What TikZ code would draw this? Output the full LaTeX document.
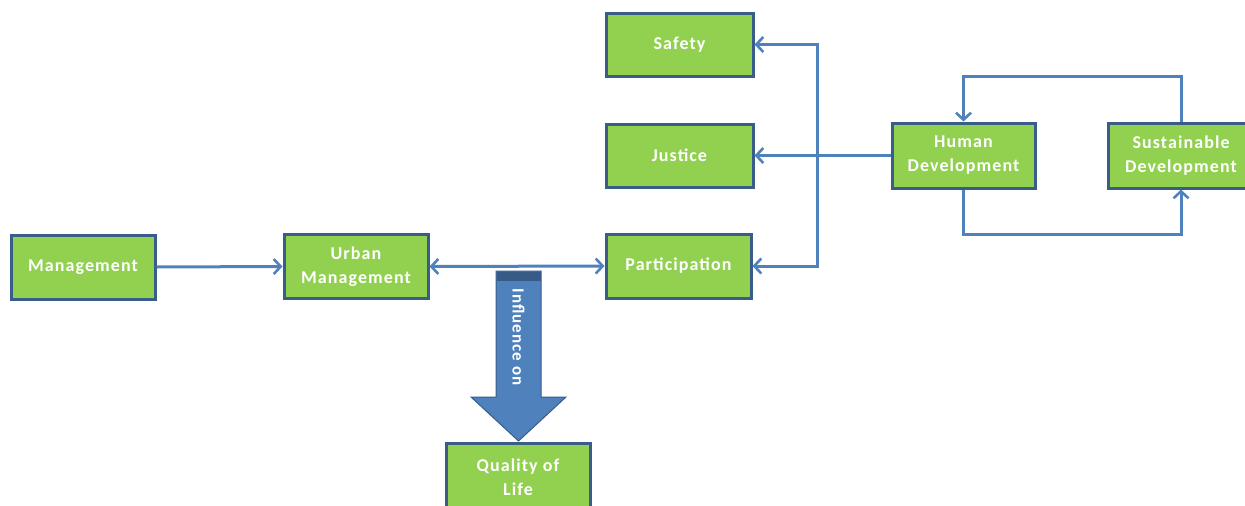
\documentclass[tikz,border=0pt]{standalone}
\usepackage{fontspec}
\setmainfont{Carlito}[LetterSpace=6]
\usetikzlibrary{arrows.meta}
\definecolor{boxgreen}{RGB}{146,208,80}
\definecolor{boxblue}{RGB}{56,93,138}
\definecolor{linkblue}{RGB}{79,129,189}
\definecolor{bandblue}{RGB}{55,90,135}
\tikzset{
  box/.style={draw=boxblue, line width=3pt, fill=boxgreen, inner sep=0pt,
    text=white, align=center, font=\bfseries\fontsize{18}{24}\selectfont,
    minimum width=#1, minimum height=64pt},
  box/.default=144pt,
  conn/.style={draw=linkblue, line width=3pt,
    -{Straight Barb[length=7pt,width=15pt,line width=2.6pt]}},
  bothconn/.style={conn, {Straight Barb[length=7pt,width=15pt,line width=2.6pt]}-{Straight Barb[length=7pt,width=15pt,line width=2.6pt]}},
  bigarrow/.style={fill=linkblue, draw=boxblue, line width=1pt}
}
\begin{document}
\begin{tikzpicture}[x=1pt,y=-1pt]
\useasboundingbox (0,0) rectangle (1245,506);
\clip (0,0) rectangle (1245,506);
% boxes
\node[box] (mgmt) at (83,267) {Management};
\node[box] (urban) at (356,266.5) {Urban\\Management};
\node[box=145pt] (part) at (678.5,266) {Participation};
\node[box=147pt, minimum height=63pt] (safety) at (679.5,44.5) {Safety};
\node[box=147pt, minimum height=63pt] (justice) at (679.5,155.5) {Justice};
\node[box=143pt, minimum height=65pt] (hd) at (963.5,155.5) {Human\\Development};
\node[box=146pt, minimum height=65pt] (sd) at (1181,155.5) {Sustainable\\Development};
\node[box, minimum height=68pt] (qol) at (518,477) {Quality of\\Life};
% big arrow
\path[bigarrow] (496,271) -- (541,271) -- (541,397) -- (566,397) -- (518.5,441)
  -- (471,397) -- (496,397) -- cycle;
\fill[bandblue] (496.5,271.5) rectangle (540.5,281);
\node[rotate=-90, text=white, font=\bfseries\fontsize{17}{20}\selectfont] (infl) at (518.5,337) {Influence on};
% connectors
\draw[conn] (mgmt.east) -- (urban.west);
\draw[bothconn] (urban.east) -- (part.west);
\coordinate (j) at (817,155.5);
\draw[conn] (hd.west) -- (justice.east);
\draw[conn] (j) |- (safety.east);
\draw[conn] (j) |- (part.east);
\draw[conn] (sd.north) -- ++(0,-45) -| (hd.north);
\draw[conn] (hd.south) -- ++(0,45) -| (sd.south);
\end{tikzpicture}
\end{document}
